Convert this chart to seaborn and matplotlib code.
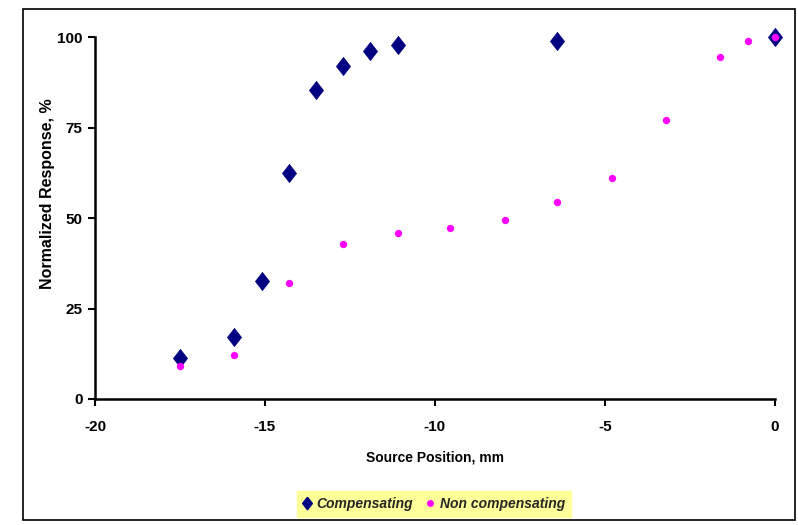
import matplotlib
matplotlib.use("Agg")
import matplotlib.pyplot as plt
from matplotlib.patches import Rectangle
from matplotlib.lines import Line2D
import seaborn as sns
import pandas as pd

# Normalized detector response vs. source position
comp_pos = [-17.5, -15.9, -15.1, -14.3, -13.5, -12.7, -11.9, -11.1, -6.4, 0.0]
comp_resp = [11.3, 17.1, 32.6, 62.4, 85.4, 92.0, 96.1, 97.8, 98.9, 100.0]

noncomp_pos = [-17.5, -15.9, -14.3, -12.7, -11.1, -9.55, -7.95, -6.4, -4.8,
               -3.2, -1.6, -0.8, 0.0]
noncomp_resp = [9.1, 12.2, 32.0, 42.8, 45.9, 47.3, 49.5, 54.5, 61.0,
                77.2, 94.5, 98.8, 100.0]

series_names = ["Compensating", "Non compensating"]
x_ticks = [-20, -15, -10, -5, 0]
y_ticks = [0, 25, 50, 75, 100]

sns.set_theme(style="white")
plt.rcParams["font.family"] = ["Liberation Sans", "DejaVu Sans"]

df_comp = pd.DataFrame({"pos": comp_pos, "resp": comp_resp})
df_non = pd.DataFrame({"pos": noncomp_pos, "resp": noncomp_resp})

fig = plt.figure(figsize=(7.98, 5.25), dpi=100)
ax = fig.add_axes([0.119, 0.24, 0.852, 0.6895])

navy = "#000080"
magenta = "#FF00FF"
diamond = [(0, 1), (0.78, 0), (0, -1), (-0.78, 0), (0, 1)]

sns.scatterplot(data=df_comp, x="pos", y="resp", ax=ax, marker=diamond,
                s=170, color=navy, edgecolor=navy, linewidth=0.5,
                clip_on=False, zorder=3)
sns.scatterplot(data=df_non, x="pos", y="resp", ax=ax, marker="o",
                s=28, color=magenta, edgecolor=magenta, linewidth=0,
                clip_on=False, zorder=4)

ax.set_xlim(-20, 0)
ax.set_ylim(0, 100)
ax.set_xticks(x_ticks)
ax.set_yticks(y_ticks)
ax.set_xticklabels([str(t) for t in x_ticks], fontsize=11, fontweight="bold")
ax.set_yticklabels([str(t) for t in y_ticks], fontsize=11, fontweight="bold")
ax.tick_params(axis="both", direction="out", length=5, width=1.5,
               color="black", labelcolor="black")
ax.tick_params(axis="y", left=True, pad=4)
ax.tick_params(axis="x", bottom=True, pad=10)

for side in ["top", "right"]:
    ax.spines[side].set_visible(False)
for side in ["left", "bottom"]:
    ax.spines[side].set_color("black")
    ax.spines[side].set_linewidth(1.8)

ax.set_xlabel("Source Position, mm", fontsize=10, fontweight="bold",
              labelpad=12, color="black")
ax.set_ylabel("Normalized Response, %", fontsize=11.5, fontweight="bold",
              color="black")
ax.yaxis.set_label_coords(-40 / 680, (399 - 194) / 362)

handles = [
    Line2D([], [], linestyle="none", marker=diamond, markersize=9,
           color=navy, markeredgecolor=navy),
    Line2D([], [], linestyle="none", marker="o", markersize=4,
           color=magenta, markeredgecolor=magenta),
]
leg = fig.legend(handles, series_names, loc="center",
                 bbox_to_anchor=(434 / 798, 1 - 504 / 525), ncol=2,
                 frameon=True, fancybox=False, handlelength=0.6,
                 handletextpad=0.4, columnspacing=0.9, borderpad=0.45,
                 prop={"size": 10, "weight": "bold", "style": "italic"})
leg.get_frame().set_facecolor("#FFFF99")
leg.get_frame().set_edgecolor("#FFFF99")
leg.get_frame().set_alpha(1)

# Outer chart-area border
fig.patches.append(Rectangle((23 / 798, 1 - 520 / 525), 772 / 798, 511 / 525,
                             transform=fig.transFigure, fill=False,
                             edgecolor="black", linewidth=1.2))

fig.savefig("out.png", dpi=100)
